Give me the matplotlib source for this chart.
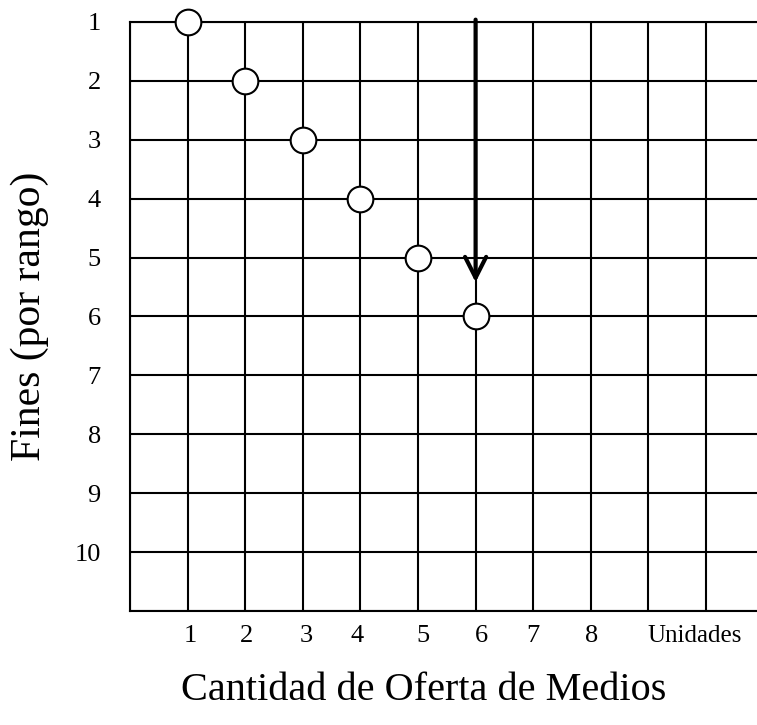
import matplotlib
matplotlib.use("Agg")
import matplotlib.pyplot as plt

# Points of the chart: quantity of media offer vs. rank of ends
cantidad = [1, 2, 3, 4, 5, 6]
fines = [1, 2, 3, 4, 5, 6]

# Grid cells
grid_x = list(range(0, 12))
grid_y = list(range(1, 12))

# Tick labels as they sit under the grid in the original
x_label_pos = [1.04, 2.03, 3.06, 3.94, 5.09, 6.11, 7.0, 8.02, 9.8]
x_labels = ["1", "2", "3", "4", "5", "6", "7", "8", "Unidades"]
y_label_pos = [1, 2, 3, 4, 5, 6, 7, 8, 9, 10]
y_labels = ["1", "2", "3", "4", "5", "6", "7", "8", "9", "10"]

# Arrow showing the cut at 6 units
arrow_x = 6
arrow_from = 0.96
arrow_to = 5.42

plt.rcParams["font.family"] = ["Liberation Serif", "DejaVu Serif"]

fig = plt.figure(figsize=(7.57, 7.25), dpi=100)
# the grid runs past the right edge of the picture
ax = fig.add_axes([130 / 757, 114 / 725, 660 / 757, 589 / 725])

ax.set_xlim(0, 660 / 57.6)
ax.set_ylim(11, 1)

# grid lines on the major ticks, labels on the minor ones
ax.xaxis.remove_overlapping_locs = False
ax.yaxis.remove_overlapping_locs = False
ax.set_xticks(grid_x)
ax.set_xticklabels([])
ax.set_xticks(x_label_pos, minor=True)
ax.set_xticklabels(x_labels, minor=True, fontsize=19)
ax.get_xticklabels(minor=True)[-1].set_fontsize(18)

ax.set_yticks(grid_y)
ax.set_yticklabels([])
ax.set_yticks(y_label_pos, minor=True)
ax.set_yticklabels(y_labels, minor=True, fontsize=19)

ax.tick_params(which="both", length=0)
ax.tick_params(axis="x", which="minor", pad=10)
ax.tick_params(axis="y", which="minor", pad=21)

ax.grid(True, which="major", color="black", linewidth=1.5)
for side in ["left", "bottom", "top"]:
    ax.spines[side].set_linewidth(1.5)
ax.spines["right"].set_visible(False)

ax.annotate("", xy=(arrow_x, arrow_to), xytext=(arrow_x, arrow_from),
            arrowprops=dict(arrowstyle="->,head_length=0.75,head_width=0.38",
                            color="black", linewidth=3, mutation_scale=20,
                            shrinkA=0, shrinkB=0),
            zorder=5, annotation_clip=False)

ax.plot(cantidad, fines, linestyle="none", marker="o", markersize=18.5,
        markerfacecolor="white", markeredgecolor="black",
        markeredgewidth=1.5, clip_on=False, zorder=6)

ax.set_xlabel("Cantidad de Oferta de Medios", fontsize=29)
ax.xaxis.set_label_coords(0.445, -0.135)
ax.xaxis.label.set_va("center")

ax.set_ylabel("Fines (por rango)", fontsize=30)
ax.yaxis.set_label_coords(-0.16 * 627 / 660, 0.5)
ax.yaxis.label.set_va("center")

plt.savefig("out.png", dpi=100)
